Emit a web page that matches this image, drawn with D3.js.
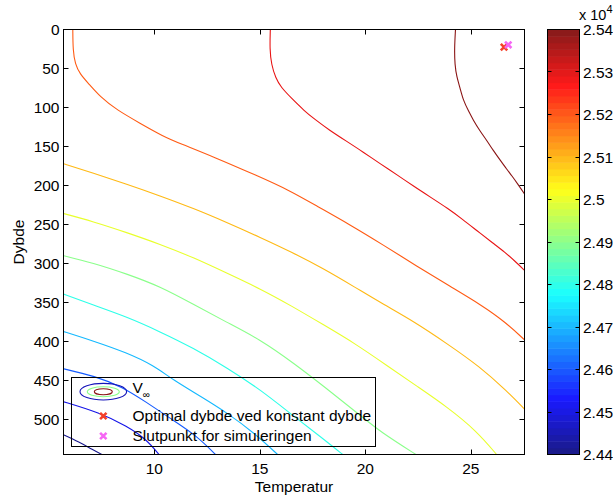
<!DOCTYPE html>
<html><head><meta charset="utf-8">
<script src="https://cdn.jsdelivr.net/npm/d3@7"></script>
<style>body{margin:0;background:#fff}svg{display:block;font-family:"Liberation Sans",Arial,Helvetica,sans-serif}</style>
</head><body><svg id="c" width="613" height="497"></svg>
<script>
// ---------- data ----------
const xTicks = [10, 15, 20, 25];
const yTicks = [0, 50, 100, 150, 200, 250, 300, 350, 400, 450, 500];
const levels = [24400, 24500, 24600, 24700, 24800, 24900, 25000, 25100, 25200, 25300, 25400];
const cbTicks = [24400, 24500, 24600, 24700, 24800, 24900, 25000, 25100, 25200, 25300, 25400];

// contour lines: [Temperatur, Dybde]
const line24400 = [[5.6,518],[6.48,529],[7.0,537],[7.7,547]];
const line24500 = [[5.6,476],[7.43,491],[8.69,508],[9.64,525],[10.3,547]];
const line24600 = [[5.6,434],[7.2,444],[8.5,458],[9.6,477],[10.75,498],[12.0,520],[13.0,547]];
const line24700 = [[5.6,386],[7.11,399],[8.69,414],[9.95,430],[10.9,449],[12.2,470],[13.5,492],[14.7,516],[15.95,547]];
const line24800 = [[5.6,338],[7.11,353],[8.69,368],[10.27,387],[11.85,408],[13.43,433],[15.01,461],[16.59,495],[17.85,521],[19.05,547]];
const line24900 = [[5.6,289],[7.11,299],[8.69,313],[10.27,329],[11.85,352],[13.43,375],[15.01,397],[16.59,427],[18.17,460],[19.75,494],[20.69,515],[22.55,547]];
const line25000 = [[5.6,235],[7.11,246],[8.69,260],[10.27,275],[11.85,292],[13.43,312],[15.01,332],[16.5,354],[18.0,378],[19.5,402],[21.0,430],[22.5,458],[23.85,483],[25.27,514],[26.3,547]];
const line25100 = [[5.6,171],[7.11,184],[8.69,198],[10.27,213],[11.85,229],[13.43,247],[15.0,266],[16.5,285],[18.0,306],[19.5,330],[20.85,352],[22.3,374],[23.85,402],[25.43,432],[26.7,463],[27.6,488]];
const line25200 = [[6.14,-4],[6.14,0],[6.15,27],[6.25,44],[6.48,57],[6.88,69],[7.43,86],[8.22,103],[9.32,120],[10.43,137],[11.22,146],[12.8,163],[14.85,187],[16.4,206],[17.69,226],[19.27,250],[20.85,276],[22.43,303],[24.01,329],[25.5,353],[26.6,374],[27.6,399]];
const line25300 = [[15.50,-4],[15.50,0],[15.47,25],[15.55,45],[15.75,62],[16.0,74],[16.5,88],[17.1,104],[17.6,115],[18.3,129],[19.1,143],[19.9,157],[20.7,172],[21.5,186],[22.3,201],[23.1,215],[23.9,229],[24.6,243],[25.3,258],[26.06,274],[26.6,285],[27.1,297],[27.6,310]];
const line25400 = [[24.28,-4],[24.27,0],[24.22,25],[24.24,45],[24.33,61],[24.48,74],[24.64,91],[24.9,105],[25.11,116],[25.43,130],[25.75,142],[26.06,155],[26.38,167],[26.7,179],[26.93,187],[27.2,197],[27.6,213]];
const contourLines = [line24400,line24500,line24600,line24700,line24800,line24900,line25000,line25100,line25200,line25300,line25400];

const optimalPoint = [26.57, 22.6];
const endPoint = [26.77, 19.6];
const legendLabels = ["V", "Optimal dybde ved konstant dybde", "Slutpunkt for simuleringen"];

// ---------- helpers ----------
function jet(f){const c=v=>Math.max(0,Math.min(1,v));return [c(1.5-Math.abs(4*f-3)),c(1.5-Math.abs(4*f-2)),c(1.5-Math.abs(4*f-1))];}
function col(f,w){const j=jet(f);return d3.rgb(...j.map(v=>Math.round(255*(v*(1-w)+w))));}

const FS = 15.5;
const svg = d3.select("#c");
const X0=63.5,X1=524.5,Y0=29.5,Y1=454.5;
const x = d3.scaleLinear().domain([5.70,27.54]).range([X0,X1]);
const y = d3.scaleLinear().domain([0,544.4]).range([Y0,Y1]);
const cScale = d3.scaleLinear().domain([24400,25400]).range([0,1]);

svg.append("defs").append("clipPath").attr("id","clip")
  .append("rect").attr("x",X0).attr("y",Y0).attr("width",X1-X0).attr("height",Y1-Y0);

// contour lines
const lineGen = d3.line().x(d=>x(d[0])).y(d=>y(d[1])).curve(d3.curveBasis);
svg.append("g").attr("clip-path","url(#clip)").selectAll("path").data(contourLines).join("path")
  .attr("d",lineGen).attr("fill","none")
  .attr("stroke",(d,i)=>col(cScale(levels[i]),0.08)).attr("stroke-width",1.1);

// markers
function xMark(g,cx,cy,color){
  const s=3.2;
  g.append("path").attr("d",`M${cx-s},${cy-s}L${cx+s},${cy+s}M${cx-s},${cy+s}L${cx+s},${cy-s}`)
   .attr("stroke",color).attr("stroke-width",2.6).attr("fill","none");
}
const mk = svg.append("g");
xMark(mk,x(optimalPoint[0]),y(optimalPoint[1]),"#f5402a");
xMark(mk,x(endPoint[0]),y(endPoint[1]),"#f666f4");

// axes box & ticks
const ax = svg.append("g").attr("stroke","#000").attr("stroke-width",1);
ax.append("rect").attr("x",X0).attr("y",Y0).attr("width",X1-X0).attr("height",Y1-Y0).attr("fill","none");
const tl=5;
xTicks.forEach(t=>{const px=Math.round(x(t))+0.5;
  ax.append("line").attr("x1",px).attr("x2",px).attr("y1",Y1).attr("y2",Y1-tl);
  ax.append("line").attr("x1",px).attr("x2",px).attr("y1",Y0).attr("y2",Y0+tl);});
yTicks.forEach(t=>{const py=Math.round(y(t)-0.5)+0.5;
  ax.append("line").attr("x1",X0).attr("x2",X0+tl).attr("y1",py).attr("y2",py);
  ax.append("line").attr("x1",X1).attr("x2",X1-tl).attr("y1",py).attr("y2",py);});

const txt = svg.append("g").attr("font-size",FS).attr("fill","#000");
xTicks.forEach(t=>txt.append("text").attr("x",x(t)).attr("y",473.5).attr("text-anchor","middle").text(t));
yTicks.forEach(t=>txt.append("text").attr("x",59.5).attr("y",y(t)+5.5).attr("text-anchor","end").text(t));
txt.append("text").attr("x",(X0+X1)/2).attr("y",492).attr("text-anchor","middle").text("Temperatur");
txt.append("text").attr("transform",`translate(23.5,${(Y0+Y1)/2}) rotate(-90)`).attr("text-anchor","middle").text("Dybde");

// legend
const lg = svg.append("g");
lg.append("rect").attr("x",71.5).attr("y",377.5).attr("width",304).attr("height",69).attr("fill","none").attr("stroke","#000");
const ex=103.3, ey=391.7;
[[23.3,8.3,0.05],[16,5,0.5],[9,3,1]].forEach(e=>lg.append("ellipse").attr("cx",ex).attr("cy",ey).attr("rx",e[0]).attr("ry",e[1])
   .attr("fill","none").attr("stroke",col(e[2],0.08)).attr("stroke-width",1.1));
const vt = lg.append("text").attr("x",132.5).attr("y",393).attr("font-size",FS);
vt.append("tspan").text(legendLabels[0]);
vt.append("tspan").attr("font-size",10).attr("dy",5).text("∞");
xMark(lg,103.3,416,"#f5402a");
xMark(lg,103.3,436,"#f666f4");
lg.append("text").attr("x",132.5).attr("y",421).attr("font-size",FS).text(legendLabels[1]);
lg.append("text").attr("x",132.5).attr("y",441).attr("font-size",FS).text(legendLabels[2]);

// colorbar
const CB0=547.5, CB1=579.5;
const cy = d3.scaleLinear().domain([24400,25400]).range([Y1,Y0]);
const nBands=64;
const bands=d3.range(nBands);
svg.append("g").selectAll("rect").data(bands).join("rect")
  .attr("x",CB0).attr("width",CB1-CB0)
  .attr("y",i=>cy(24400+(i+1)*1000/nBands))
  .attr("height",i=>cy(24400+i*1000/nBands)-cy(24400+(i+1)*1000/nBands)+0.5)
  .attr("fill",i=>col(i/(nBands-1),0.1));
const cb = svg.append("g").attr("stroke","#000");
cb.append("rect").attr("x",CB0).attr("y",Y0).attr("width",CB1-CB0).attr("height",Y1-Y0).attr("fill","none");
cbTicks.forEach(t=>{const py=Math.round(cy(t)-0.5)+0.5;
  cb.append("line").attr("x1",CB0).attr("x2",CB0+4).attr("y1",py).attr("y2",py);
  cb.append("line").attr("x1",CB1).attr("x2",CB1-4).attr("y1",py).attr("y2",py);});
cbTicks.forEach(t=>txt.append("text").attr("x",583).attr("y",cy(t)+5.5).text(d3.format(".2~f")(t/1e4)));
const ex10 = txt.append("text").attr("x",579).attr("y",19.5).attr("font-size",14.5);
ex10.append("tspan").text("x 10");
ex10.append("tspan").attr("font-size",11).attr("dy",-7).text("4");
</script></body></html>
